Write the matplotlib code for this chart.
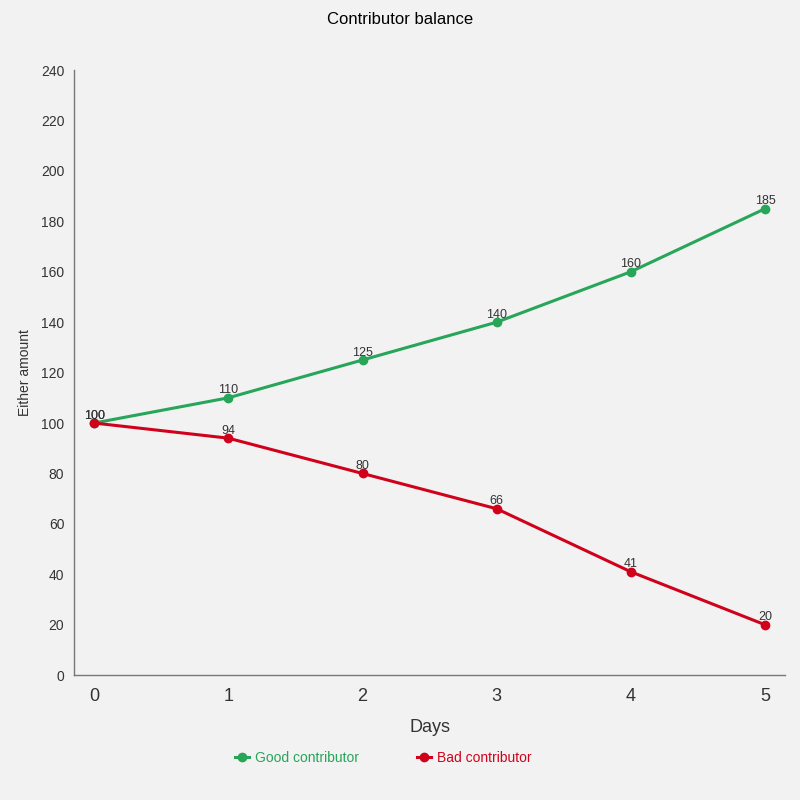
import matplotlib
matplotlib.use('Agg')
import matplotlib.pyplot as plt

days = [0, 1, 2, 3, 4, 5]
good = [100, 110, 125, 140, 160, 185]
bad = [100, 94, 80, 66, 41, 20]
yticks = [0, 20, 40, 60, 80, 100, 120, 140, 160, 180, 200, 220, 240]

green = '#27a559'
red = '#d0021b'
bg = '#f2f2f2'

plt.rcParams['font.family'] = ['Liberation Sans', 'DejaVu Sans']

fig = plt.figure(figsize=(8, 8), dpi=100, facecolor=bg)
ax = fig.add_axes([0.0925, 0.156, 0.889, 0.7565], facecolor=bg)

ax.plot(days, good, color=green, lw=2.2, marker='o', ms=6, label='Good contributor', zorder=3)
ax.plot(days, bad, color=red, lw=2.2, marker='o', ms=6, label='Bad contributor', zorder=3)

for x, y in zip(days, good):
    ax.annotate(str(y), (x, y), xytext=(0, 1), textcoords='offset points',
                ha='center', va='bottom', fontsize=9, color='#333333')
for x, y in zip(days, bad):
    ax.annotate(str(y), (x, y), xytext=(0, 1), textcoords='offset points',
                ha='center', va='bottom', fontsize=9, color='#333333')

ax.set_xlim(-0.15, 5.15)
ax.set_ylim(0, 240)
ax.set_yticks(yticks)
ax.set_xticks(days)
ax.tick_params(axis='y', length=0, labelsize=10, colors='#333333', pad=7)
ax.tick_params(axis='x', length=0, labelsize=13, colors='#333333', pad=9)
for s in ['top', 'right']:
    ax.spines[s].set_visible(False)
for s in ['left', 'bottom']:
    ax.spines[s].set_color('#777777')
    ax.spines[s].set_linewidth(1)

ax.set_xlabel('Days', fontsize=13, color='#333333', labelpad=10)
ax.set_ylabel('Either amount', fontsize=10, color='#333333', labelpad=6)
fig.suptitle('Contributor balance', y=0.985, fontsize=12, color='black')

leg = ax.legend(loc='upper center', bbox_to_anchor=(0.435, -0.105), ncol=2, frameon=False,
                fontsize=10, handlelength=1.0, handletextpad=0.4, columnspacing=4.2)
for t, c in zip(leg.get_texts(), [green, red]):
    t.set_color(c)

fig.savefig('out.png', dpi=100, facecolor=bg)
